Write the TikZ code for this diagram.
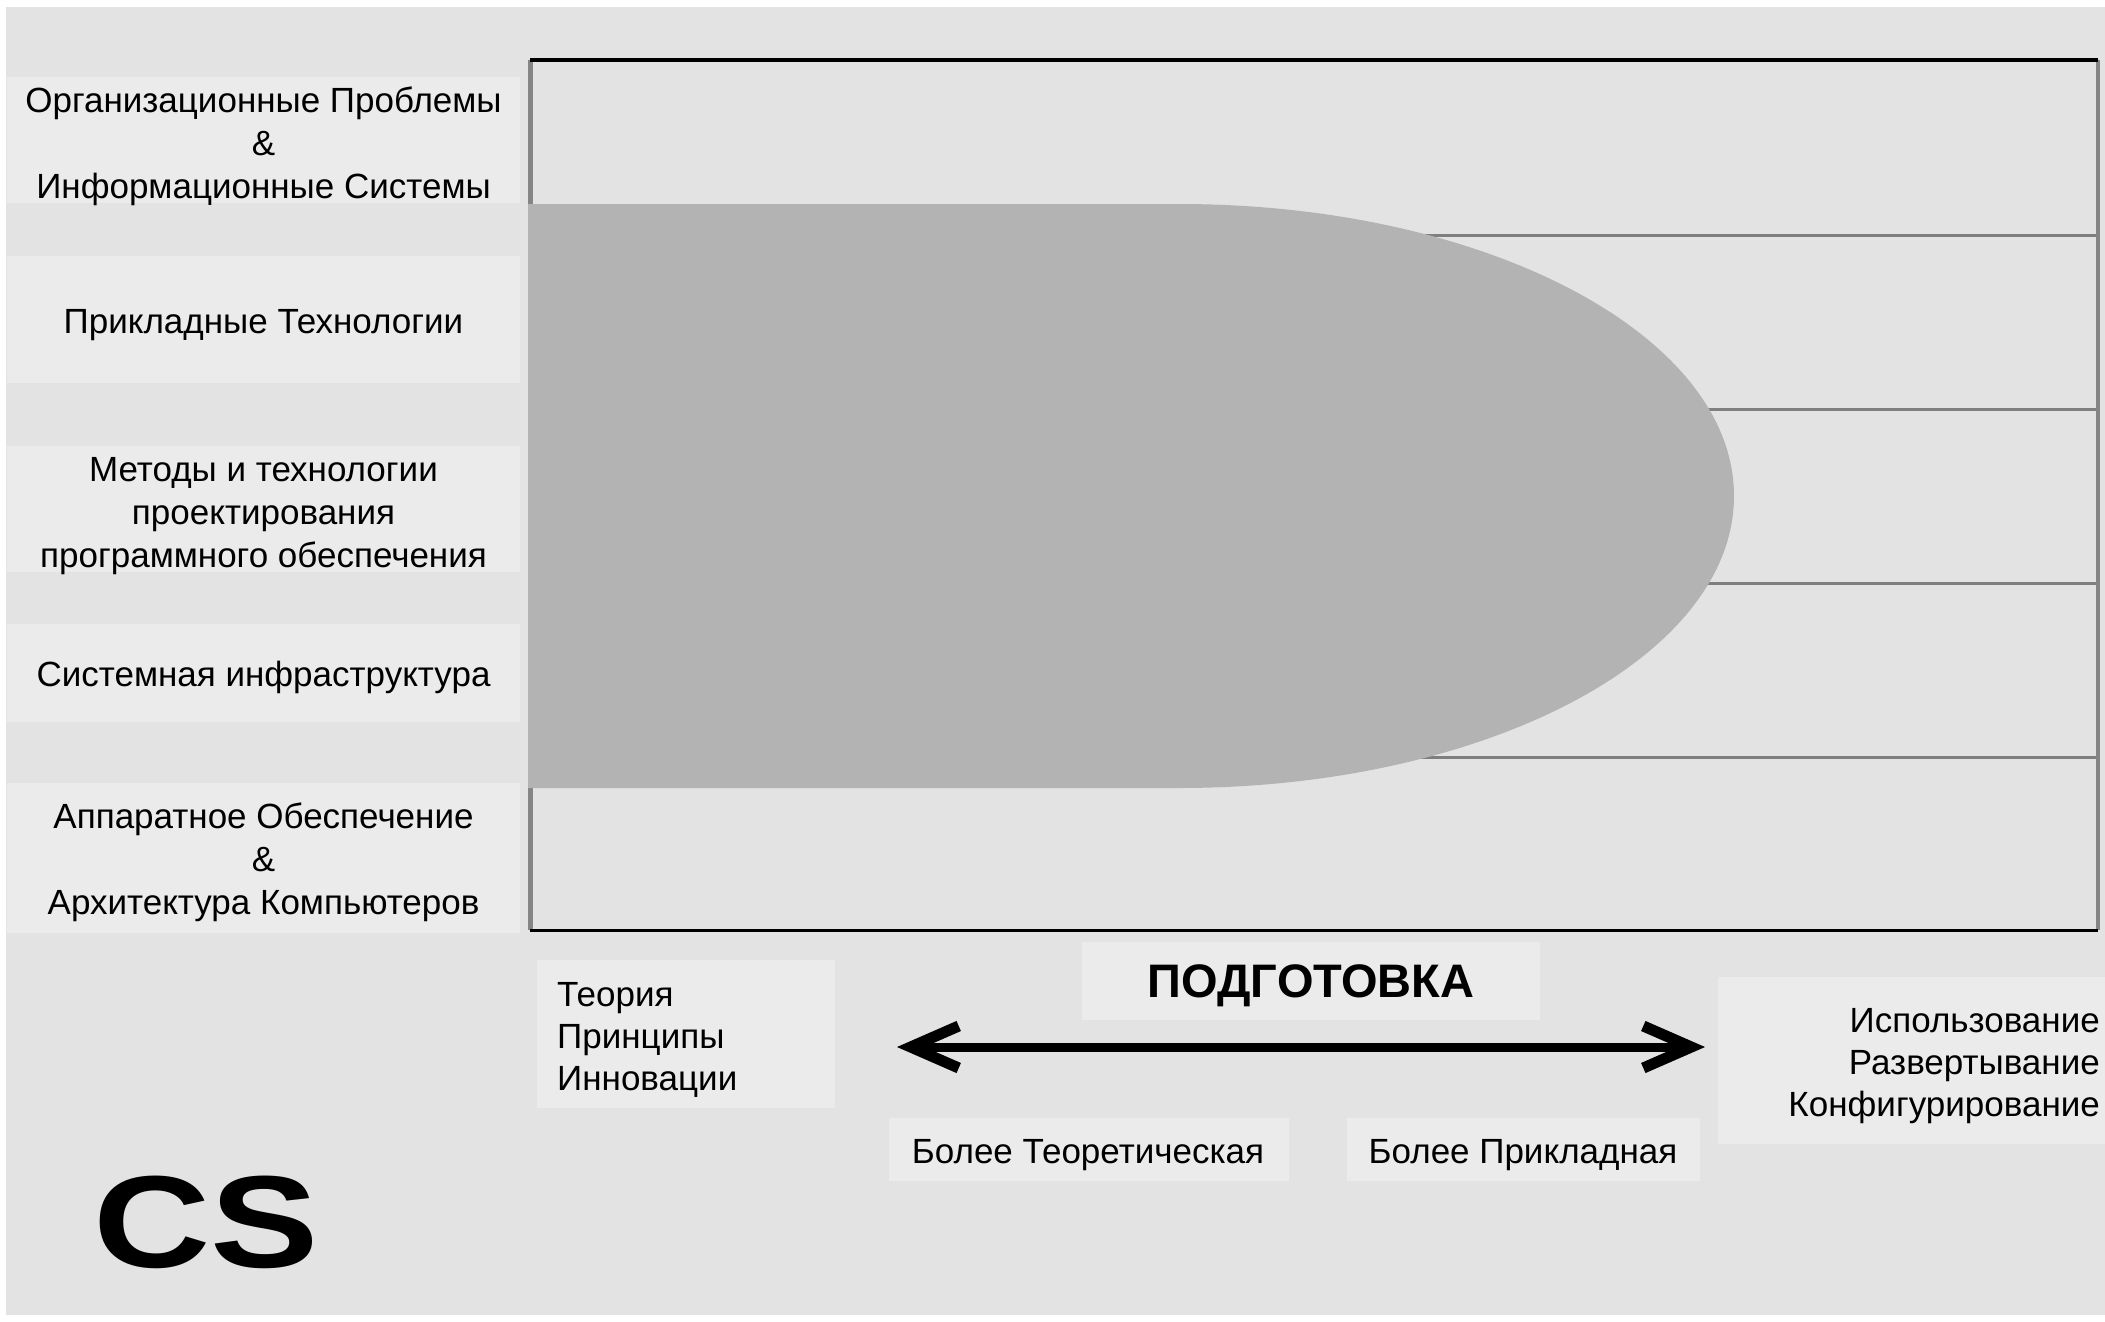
\documentclass[tikz,border=0pt]{standalone}
\usepackage{fontspec}
\setmainfont{Liberation Sans}
\usetikzlibrary{arrows.meta}
\definecolor{bg}{HTML}{E3E3E3}
\definecolor{boxgray}{HTML}{EBEBEB}
\definecolor{blobgray}{HTML}{B3B3B3}
\definecolor{rowline}{HTML}{7F7F7F}
\definecolor{sideline}{HTML}{858585}
\begin{document}
\begin{tikzpicture}[x=1pt,y=-1pt,
  txt/.style={font=\fontsize{35}{43}\selectfont, inner sep=0pt},
  boxbg/.style={fill=boxgray, inner sep=0pt, draw=none},
  lbox/.style={boxbg, minimum width=513},
  lbl/.style={txt, align=center},
  rowsep/.style={draw=rowline, line width=3},
  frameblack/.style={draw=black, line width=4},
  framegray/.style={draw=sideline, line width=5},
  bigarrow/.style={line width=9, {Straight Barb[length=48,width=42,line width=11]}-{Straight Barb[length=48,width=42,line width=11]}}
]
\useasboundingbox (0,0) rectangle (2105,1322);
\fill[white] (0,0) rectangle (2105,1322);
\fill[bg] (6,7) rectangle (2105,1315);

% frame corners
\coordinate (ftl) at (530,60);
\coordinate (ftr) at (2098,60);
\coordinate (fbl) at (530,930);
\coordinate (fbr) at (2098,930);

% row separators
\foreach \yy in {235,409,583,757} {
  \draw[rowsep] (530,\yy) -- (2098,\yy);
}
\draw[framegray] (ftl) -- (fbl);
\draw[framegray, line width=4] (ftr) -- (fbr);
\draw[frameblack] (ftl) -- (ftr);
\draw[frameblack, line width=3] (fbl) -- (fbr);

% grey blob
\fill[blobgray] (528,204) -- (1179,204)
  arc[start angle=-90, end angle=90, x radius=555, y radius=292]
  -- (528,788) -- cycle;

% left label boxes
\node[lbox, minimum height=126] (orgbox) at (263.5,140) {};
\node[lbox, minimum height=127] (appbox) at (263.5,319.5) {};
\node[lbox, minimum height=126] (metbox) at (263.5,509) {};
\node[lbox, minimum height=98] (sysbox) at (263.5,673) {};
\node[lbox, minimum height=150] (hwbox) at (263.5,858) {};
% left label texts
\node[lbl] (org) at (263.5,146) {Организационные Проблемы\\\&\\Информационные Системы};
\node[lbl] (app) at (263.5,325) {Прикладные Технологии};
\node[lbl] (met) at (263.5,516) {Методы и технологии\\проектирования\\программного обеспечения};
\node[lbl] (sys) at (263.5,677) {Системная инфраструктура};
\node[lbl] (hw) at (263.5,862) {Аппаратное Обеспечение\\\&\\Архитектура Компьютеров};

% bottom boxes
\node[boxbg, minimum width=298, minimum height=148] (theobox) at (686,1034) {};
\node[boxbg, minimum width=458, minimum height=78] (prepbox) at (1311,981) {};
\node[boxbg, minimum width=387, minimum height=167] (usebox) at (1911.5,1060.5) {};
\node[boxbg, minimum width=400, minimum height=63] (morethbox) at (1089,1149.5) {};
\node[boxbg, minimum width=353, minimum height=63] (moreapbox) at (1523.5,1149.5) {};
% bottom texts
\node[txt, font=\fontsize{35}{42}\selectfont, align=left, anchor=west] (theo) at (557,1040) {Теория\\Принципы\\Инновации};
\node[txt, font=\fontsize{47}{54}\selectfont\bfseries] (prep) at (1311,986) {ПОДГОТОВКА};
\node[txt, font=\fontsize{35}{42}\selectfont, align=right, anchor=east] (use) at (2100,1066) {Использование\\Развертывание\\Конфигурирование};
\node[txt] (moreth) at (1088,1155) {Более Теоретическая};
\node[txt] (moreap) at (1523,1155) {Более Прикладная};

% arrow
\coordinate (al) at (897,1047);
\coordinate (ar) at (1705,1047);
\draw[bigarrow] (al) -- (ar);

% CS
\node[inner sep=0pt, font=\fontsize{131}{140}\selectfont\bfseries, xscale=1.24] (cs) at (206,1222) {CS};
\end{tikzpicture}
\end{document}
